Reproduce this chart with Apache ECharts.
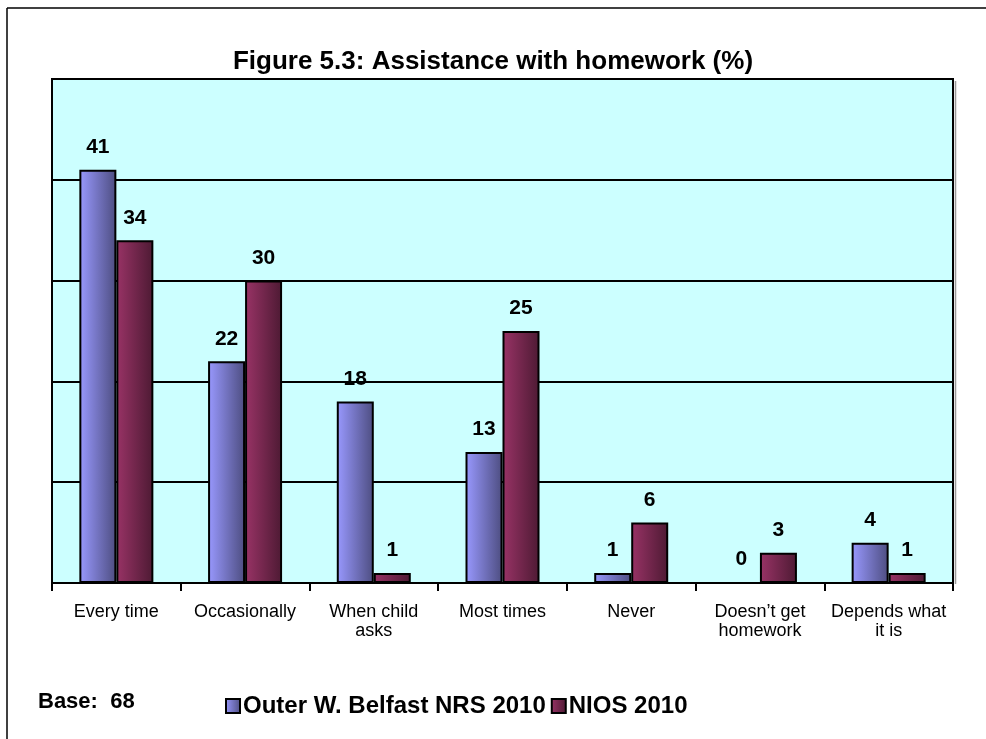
<!DOCTYPE html>
<html>
<head>
<meta charset="utf-8">
<script src="https://cdn.jsdelivr.net/npm/echarts@6/dist/echarts.min.js"></script>
<style>
html,body{margin:0;padding:0;background:#fff;}
#c{width:986px;height:739px;}
</style>
</head>
<body>
<div id="c"></div>
<script>
const categories = ['Every time', 'Occasionally', 'When child\nasks', 'Most times', 'Never', 'Doesn\u2019t get\nhomework', 'Depends what\nit is'];
const seriesNames = ['Outer W. Belfast NRS 2010', 'NIOS 2010'];
const belfastValues = [41, 22, 18, 13, 1, 0, 4];
const niosValues = [34, 30, 1, 25, 6, 3, 1];
const yTicks = [0, 10, 20, 30, 40, 50];

const chart = echarts.init(document.getElementById('c'), null, {renderer: 'canvas'});
const font = '"Liberation Sans", Arial, sans-serif';
function grad(c1, c2) {
  return new echarts.graphic.LinearGradient(0, 0, 1, 0, [
    {offset: 0, color: c1}, {offset: 1, color: c2}
  ]);
}
const labelStyle = {
  show: true, position: 'top', distance: 12,
  fontFamily: font, fontWeight: 'bold', fontSize: 21, color: '#000'
};
chart.setOption({
  animation: false,
  backgroundColor: '#fff',
  title: {
    text: 'Figure 5.3: Assistance with homework (%)',
    left: 'center', top: 44,
    textStyle: {fontFamily: font, fontWeight: 'bold', fontSize: 26, color: '#000'}
  },
  legend: {
    data: seriesNames,
    left: 220, top: 689,
    itemWidth: 14, itemHeight: 14, itemGap: 5,
    icon: 'rect',
    textStyle: {fontFamily: font, fontWeight: 'bold', fontSize: 24, color: '#000', padding: [0, 0, 0, -2]}
  },
  graphic: [
    {type: 'line', shape: {x1: 7, y1: 8, x2: 986, y2: 8}, style: {stroke: '#000', lineWidth: 1.5}},
    {type: 'line', shape: {x1: 7, y1: 8, x2: 7, y2: 739}, style: {stroke: '#000', lineWidth: 1.5}},
    {type: 'line', shape: {x1: 955.5, y1: 81, x2: 955.5, y2: 584}, style: {stroke: '#999', lineWidth: 1.5}},
    {type: 'text', left: 38, top: 691, style: {text: 'Base:  68', fontFamily: font, fontWeight: 'bold', fontSize: 22, fill: '#000'}}
  ],
  grid: {
    left: 52, right: 33, top: 79, bottom: 156,
    show: true, backgroundColor: '#ccffff', borderColor: '#000', borderWidth: 2
  },
  xAxis: {
    type: 'category',
    data: categories,
    axisLine: {lineStyle: {color: '#000', width: 2}},
    axisTick: {show: true, length: 8, lineStyle: {color: '#000', width: 2}},
    axisLabel: {fontFamily: font, fontSize: 18, color: '#000', margin: 20, lineHeight: 19, interval: 0}
  },
  yAxis: {
    type: 'value',
    min: yTicks[0], max: yTicks[yTicks.length - 1], interval: 10,
    axisLine: {show: true, lineStyle: {color: '#000', width: 2}},
    axisTick: {show: false},
    axisLabel: {show: false},
    splitLine: {lineStyle: {color: '#000', width: 2}}
  },
  series: [
    {
      name: seriesNames[0], type: 'bar', data: belfastValues,
      barWidth: 37, barGap: '0%',
      itemStyle: {color: grad('#9999ff', '#4d4d80'), borderColor: '#000', borderWidth: 2},
      label: labelStyle
    },
    {
      name: seriesNames[1], type: 'bar', data: niosValues,
      barWidth: 37, barGap: '0%',
      itemStyle: {color: grad('#993366', '#4d1a33'), borderColor: '#000', borderWidth: 2},
      label: labelStyle
    }
  ]
});
</script>
</body>
</html>
